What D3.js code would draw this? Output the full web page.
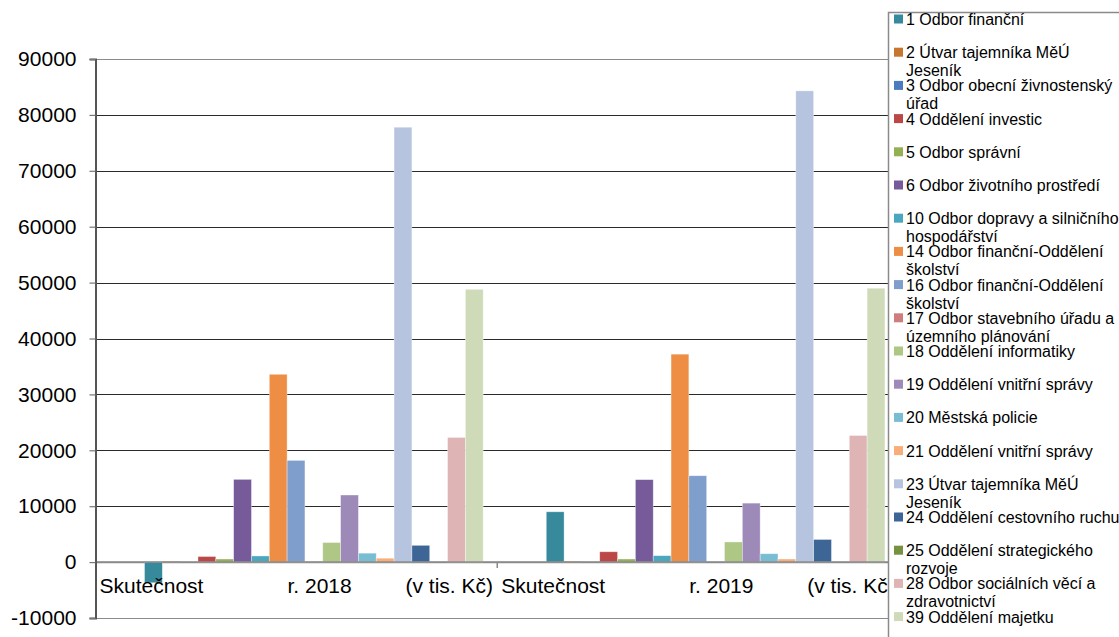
<!DOCTYPE html>
<html>
<head>
<meta charset="utf-8">
<script src="https://cdn.jsdelivr.net/npm/d3@7"></script>
<style>
  html, body { margin: 0; padding: 0; background: #fff; }
  svg { display: block; font-family: "Liberation Sans", Arial, sans-serif; }
</style>
</head>
<body>
<svg id="chart" width="1119" height="637"></svg>
<script>
// ---- data ----
const categories = ["Skutečnost r. 2018 (v tis. Kč)", "Skutečnost r. 2019 (v tis. Kč)"];
const categoryLabelParts = [
  ["Skutečnost", "r. 2018", "(v tis. Kč)"],
  ["Skutečnost", "r. 2019", "(v tis. Kč)"]
];
const seriesNames = [
  "1 Odbor finanční",
  "2 Útvar tajemníka MěÚ Jeseník",
  "3 Odbor obecní živnostenský úřad",
  "4 Oddělení investic",
  "5 Odbor správní",
  "6 Odbor životního prostředí",
  "10 Odbor dopravy a silničního hospodářství",
  "14 Odbor finanční-Oddělení školství",
  "16 Odbor finanční-Oddělení školství",
  "17 Odbor stavebního úřadu a územního plánování",
  "18 Oddělení informatiky",
  "19 Oddělení vnitřní správy",
  "20 Městská policie",
  "21 Oddělení vnitřní správy",
  "23 Útvar tajemníka MěÚ Jeseník",
  "24 Oddělení cestovního ruchu",
  "25 Oddělení strategického rozvoje",
  "28 Odbor sociálních věcí a zdravotnictví",
  "39 Oddělení majetku"
];
const legendLines = [
  ["1 Odbor finanční"],
  ["2 Útvar tajemníka MěÚ", "Jeseník"],
  ["3 Odbor obecní živnostenský", "úřad"],
  ["4 Oddělení investic"],
  ["5 Odbor správní"],
  ["6 Odbor životního prostředí"],
  ["10 Odbor dopravy a silničního", "hospodářství"],
  ["14 Odbor finanční-Oddělení", "školství"],
  ["16 Odbor finanční-Oddělení", "školství"],
  ["17 Odbor stavebního úřadu a", "územního plánování"],
  ["18 Oddělení informatiky"],
  ["19 Oddělení vnitřní správy"],
  ["20 Městská policie"],
  ["21 Oddělení vnitřní správy"],
  ["23 Útvar tajemníka MěÚ", "Jeseník"],
  ["24 Oddělení cestovního ruchu"],
  ["25 Oddělení strategického", "rozvoje"],
  ["28 Odbor sociálních věcí a", "zdravotnictví"],
  ["39 Oddělení majetku"]
];
const values2018 = [-3700, 150, 0, 1000, 550, 14800, 1100, 33600, 18200, 100, 3500, 12000, 1600, 700, 77800, 3000, 0, 22300, 48800];
const values2019 = [9000, 150, 0, 1850, 550, 14750, 1150, 37200, 15450, 0, 3600, 10550, 1500, 550, 84300, 4050, 0, 22650, 49000];
const seriesColors = [
  "#378a9b", "#c8752f", "#4a7bbf", "#bc4747", "#93b152", "#765a9a",
  "#4aa7bf", "#ee8e45", "#7f9ecb", "#d07d7d", "#aec785", "#9e8ab8",
  "#79bdd2", "#f9ad78", "#b6c4e0", "#3d6696", "#76913f", "#dfb4b4", "#cfdbb8"
];
const yTicks = [-10000, 0, 10000, 20000, 30000, 40000, 50000, 60000, 70000, 80000, 90000];

// ---- layout ----
const svg = d3.select("#chart");
const plot = { left: 95.5, right: 899, top: 59, bottom: 618 };

const y = d3.scaleLinear().domain([-10000, 90000]).range([plot.bottom, plot.top]);
const x0 = d3.scaleBand().domain(categories).range([plot.left, plot.right]).padding(0);
const bw = x0.bandwidth();
const x1 = d3.scaleBand().domain(seriesNames)
  .range([bw * 0.122, bw * 0.965]).padding(0);

// gridlines
svg.append("g").selectAll("line").data(yTicks).join("line")
  .attr("x1", plot.left).attr("x2", plot.right)
  .attr("y1", d => Math.round(y(d)) + 0.5).attr("y2", d => Math.round(y(d)) + 0.5)
  .attr("stroke", d => (d === 90000 || d === -10000 || d === 0) ? "#8a8a8a" : "#2a2a2a")
  .attr("stroke-width", d => d === 0 ? 1.5 : 1);

// bars
const data = categories.map((c, i) => ({ cat: c, vals: i === 0 ? values2018 : values2019 }));
const groups = svg.append("g").selectAll("g").data(data).join("g")
  .attr("transform", d => `translate(${x0(d.cat)},0)`);
groups.selectAll("rect")
  .data(d => d.vals.map((v, j) => ({ name: seriesNames[j], v, color: seriesColors[j] })))
  .join("rect")
  .attr("x", d => x1(d.name))
  .attr("width", x1.bandwidth())
  .attr("y", d => Math.min(y(d.v), y(0)))
  .attr("height", d => Math.abs(y(d.v) - y(0)))
  .attr("fill", d => d.color)
  .attr("stroke", "#ffffff").attr("stroke-opacity", 0.5).attr("stroke-width", 0.7);

// zero line drawn over bars
svg.append("line")
  .attr("x1", plot.left).attr("x2", plot.right)
  .attr("y1", y(0)).attr("y2", y(0))
  .attr("stroke", "#8a8a8a").attr("stroke-width", 1.5);

// category tick marks
svg.append("g").selectAll("line").data([plot.left + bw]).join("line")
  .attr("x1", d => d).attr("x2", d => d)
  .attr("y1", y(0)).attr("y2", y(0) + 6)
  .attr("stroke", "#8a8a8a").attr("stroke-width", 1.5);

// y axis
const yAxis = d3.axisLeft(y).tickValues(yTicks).tickSize(6).tickPadding(13)
  .tickFormat(d => String(d));
const yg = svg.append("g").attr("transform", `translate(${plot.left},0)`).call(yAxis);
yg.select(".domain").attr("stroke", "#555").attr("stroke-width", 2);
yg.selectAll(".tick line").attr("stroke", "#777").attr("stroke-width", 1.2);
yg.selectAll(".tick text").attr("font-size", 21).attr("fill", "#000")
  .attr("font-family", "Liberation Sans, Arial, sans-serif");

// category labels
const offsets = [4, 192, 310];
categories.forEach((c, i) => {
  categoryLabelParts[i].forEach((t, k) => {
    svg.append("text")
      .attr("x", x0(c) + offsets[k])
      .attr("y", 592.5)
      .attr("font-size", 21)
      .attr("fill", "#000")
      .text(t);
  });
});

// legend
const lg = svg.append("g");
lg.append("rect").attr("x", 888.5).attr("y", 12.5).attr("width", 240).attr("height", 640)
  .attr("fill", "#fff").attr("stroke", "#8a8a8a").attr("stroke-width", 1.5);
const itemY = i => 19 + i * 33.2;
const items = lg.selectAll("g.item").data(seriesNames).join("g").attr("class", "item");
items.append("rect")
  .attr("x", 894).attr("y", (d, i) => itemY(i) - 4.5)
  .attr("width", 9).attr("height", 9)
  .attr("fill", (d, i) => seriesColors[i]);
items.each(function(d, i) {
  const g = d3.select(this);
  legendLines[i].forEach((line, k) => {
    g.append("text")
      .attr("x", 906)
      .attr("y", itemY(i) + 6 + k * 18)
      .attr("font-size", 16)
      .attr("fill", "#000")
      .text(line);
  });
});
</script>
</body>
</html>
